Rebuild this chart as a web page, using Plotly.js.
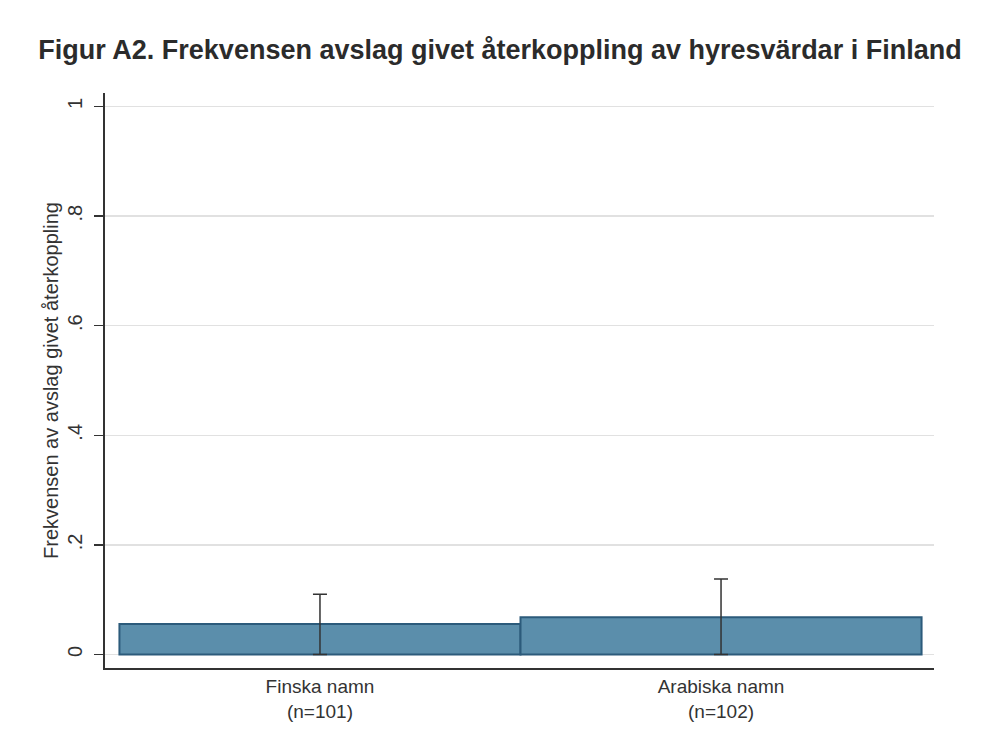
<!DOCTYPE html>
<html>
<head>
<meta charset="utf-8">
<script src="https://cdn.plot.ly/plotly-3.0.1.min.js"></script>
<style>body{margin:0;background:#fff;} #chart{width:1000px;height:752px;}</style>
</head>
<body>
<div id="chart"></div>
<script>
const categories = ["Finska namn<br>(n=101)", "Arabiska namn<br>(n=102)"];
const rejectionRate = [0.0557, 0.068];
const ciUpper = [0.110, 0.138];
const ciLower = [0.0, 0.0];
const yTickValues = [0, 0.2, 0.4, 0.6, 0.8, 1];
const yTickLabels = ["0", ".2", ".4", ".6", ".8", "1"];

const trace = {
  type: 'bar',
  x: categories,
  y: rejectionRate,
  width: 1,
  marker: {color: '#5b8eab', line: {color: '#2c5b7b', width: 2}},
  error_y: {
    type: 'data',
    symmetric: false,
    array: ciUpper.map((u, i) => u - rejectionRate[i]),
    arrayminus: ciLower.map((l, i) => rejectionRate[i] - l),
    color: '#333333',
    thickness: 1.5,
    width: 7
  },
  hoverinfo: 'skip'
};

const layout = {
  width: 1000, height: 752,
  paper_bgcolor: '#ffffff', plot_bgcolor: '#ffffff',
  margin: {l: 105, r: 66, t: 93, b: 84},
  showlegend: false,
  bargap: 0,
  title: {
    text: '<b>Figur A2. Frekvensen avslag givet återkoppling av hyresvärdar i Finland</b>',
    font: {family: 'Liberation Sans, sans-serif', size: 27, color: '#2b2b2b'},
    x: 0.5, xanchor: 'center', y: 0.934, yanchor: 'middle'
  },
  xaxis: {
    type: 'category',
    range: [-0.536, 1.531],
    showline: true, linecolor: '#333333', linewidth: 2,
    ticks: '', showgrid: false, zeroline: false,
    tickfont: {family: 'Liberation Sans, sans-serif', size: 19, color: '#333333'}
  },
  yaxis: {
    range: [-0.0246, 1.0246],
    tickvals: yTickValues, ticktext: yTickLabels,
    tickangle: -90,
    ticks: 'outside', ticklen: 9, tickwidth: 1.2, tickcolor: '#333333',
    ticklabelstandoff: 4,
    showline: true, linecolor: '#333333', linewidth: 2,
    showgrid: true, gridcolor: '#e1e1e1', gridwidth: 1.2,
    zeroline: false,
    tickfont: {family: 'Liberation Sans, sans-serif', size: 20, color: '#333333'},
    title: {text: 'Frekvensen av avslag givet återkoppling', standoff: 0,
            font: {family: 'Liberation Sans, sans-serif', size: 20, color: '#333333'}}
  }
};

Plotly.newPlot('chart', [trace], layout, {displayModeBar: false, staticPlot: true});
</script>
</body>
</html>
